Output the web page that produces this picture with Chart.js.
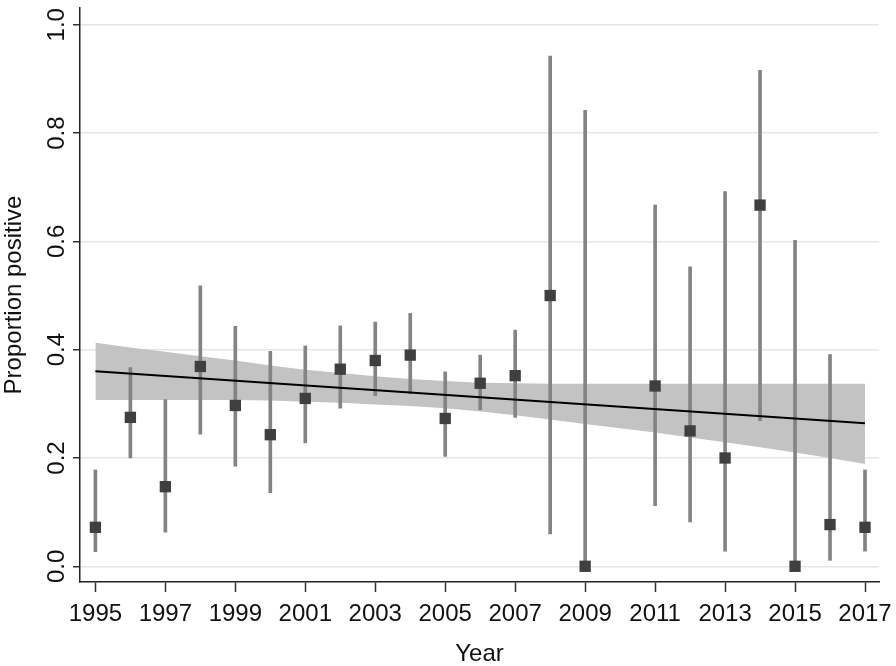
<!DOCTYPE html>
<html>
<head>
<meta charset="utf-8">
<script src="https://cdn.jsdelivr.net/npm/chart.js@4.4.1/dist/chart.umd.min.js"></script>
<style>
  html, body { margin: 0; padding: 0; background: #ffffff; }
  #wrap { width: 896px; height: 666px; }
</style>
</head>
<body>
<div id="wrap"><canvas id="c" width="896" height="666"></canvas></div>
<script>
// ---- data ----
const years      = [1995, 1996, 1997, 1998, 1999, 2000, 2001, 2002, 2003, 2004, 2005, 2006, 2007, 2008, 2009, 2011, 2012, 2013, 2014, 2015, 2016, 2017];
const proportion = [0.072, 0.275, 0.147, 0.369, 0.297, 0.243, 0.310, 0.364, 0.380, 0.390, 0.273, 0.338, 0.352, 0.500, 0.000, 0.333, 0.250, 0.200, 0.667, 0.000, 0.077, 0.072];
const ciLow      = [0.027, 0.200, 0.063, 0.244, 0.185, 0.136, 0.228, 0.292, 0.315, 0.319, 0.203, 0.289, 0.275, 0.060, 0.000, 0.112, 0.082, 0.028, 0.269, 0.000, 0.011, 0.028];
const ciHigh     = [0.178, 0.367, 0.308, 0.518, 0.443, 0.397, 0.407, 0.444, 0.451, 0.467, 0.359, 0.390, 0.436, 0.942, 0.842, 0.667, 0.553, 0.692, 0.916, 0.602, 0.391, 0.178];

const fitYears   = [1995, 2017];
const fitValues  = [0.360, 0.264];

const bandYears  = [1995, 1996, 1997, 1998, 1999, 2000, 2001, 2002, 2003, 2004, 2005, 2006, 2007, 2008, 2009, 2010, 2011, 2012, 2013, 2014, 2015, 2016, 2017];
const bandUpper  = [0.413, 0.404, 0.396, 0.388, 0.380, 0.371, 0.363, 0.357, 0.351, 0.346, 0.342, 0.339, 0.338, 0.337, 0.337, 0.337, 0.337, 0.337, 0.337, 0.337, 0.337, 0.337, 0.337];
const bandLower  = [0.307, 0.307, 0.307, 0.307, 0.307, 0.306, 0.304, 0.302, 0.299, 0.296, 0.292, 0.286, 0.279, 0.271, 0.263, 0.255, 0.247, 0.238, 0.229, 0.220, 0.210, 0.200, 0.189];

const xTicks = [1995, 1997, 1999, 2001, 2003, 2005, 2007, 2009, 2011, 2013, 2015, 2017];
const yTicks = [0.0, 0.2, 0.4, 0.6, 0.8, 1.0];
const yTickLabels = ['0.0', '0.2', '0.4', '0.6', '0.8', '1.0'];
const xTitle = 'Year';
const yTitle = 'Proportion positive';

// ---- build datasets ----
const pts   = years.map((y, i) => ({ x: y, y: proportion[i] }));
const bars  = years.map((y, i) => ({ x: y, y: [ciLow[i], ciHigh[i]] }));
const fit   = fitYears.map((y, i) => ({ x: y, y: fitValues[i] }));
const upper = bandYears.map((y, i) => ({ x: y, y: bandUpper[i] }));
const lower = bandYears.map((y, i) => ({ x: y, y: bandLower[i] }));

const FONT = "'Liberation Sans', Arial, sans-serif";

new Chart(document.getElementById('c'), {
  type: 'scatter',
  data: {
    datasets: [
      { type: 'line', data: upper, borderWidth: 0, pointRadius: 0, fill: '+1',
        backgroundColor: '#c3c3c3', borderColor: 'rgba(0,0,0,0)', order: 5 },
      { type: 'line', data: lower, borderWidth: 0, pointRadius: 0, fill: false,
        borderColor: 'rgba(0,0,0,0)', order: 4 },
      { type: 'bar', data: bars, backgroundColor: '#838383', borderWidth: 0,
        barThickness: 3, order: 3 },
      { type: 'line', data: fit, borderColor: '#000000', borderWidth: 2, pointRadius: 0,
        fill: false, order: 2 },
      { type: 'scatter', data: pts, pointStyle: 'rect', pointRadius: 8,
        backgroundColor: '#3f3f3f', borderColor: '#3f3f3f', borderWidth: 0, order: 1 }
    ]
  },
  options: {
    responsive: false,
    animation: false,
    devicePixelRatio: 1,
    layout: { padding: { left: 0, right: 17, top: 3, bottom: 0 } },
    plugins: { legend: { display: false }, tooltip: { enabled: false } },
    scales: {
      x: {
        type: 'linear', min: 1994.56, max: 2017.4, offset: false,
        afterBuildTicks: (s) => { s.ticks = xTicks.map(v => ({ value: v })); },
        afterFit: (s) => { s.height = 84; s.paddingLeft = 0; s.paddingRight = 0; },
        ticks: { color: '#111', font: { family: FONT, size: 24 }, padding: 8,
                 maxRotation: 0, minRotation: 0, autoSkip: false,
                 callback: (v) => String(v) },
        grid: { display: true, offset: false, drawOnChartArea: false, drawTicks: true, tickLength: 10,
                tickColor: '#333', tickWidth: 1.5 },
        border: { display: true, color: '#222', width: 1.5 },
        title: { display: true, text: xTitle, color: '#111',
                 font: { family: FONT, size: 24 }, padding: { top: 0, bottom: -3 } }
      },
      y: {
        type: 'linear', min: -0.029, max: 1.031,
        afterBuildTicks: (s) => { s.ticks = yTicks.map(v => ({ value: v })); },
        afterFit: (s) => { s.width = 80; s.paddingTop = 0; s.paddingBottom = 0; },
        ticks: { color: '#111', font: { family: FONT, size: 24 }, padding: -1,
                 minRotation: 90, maxRotation: 90, crossAlign: 'center', autoSkip: false,
                 callback: (v) => { const k = yTicks.findIndex(t => Math.abs(t - v) < 1e-9); return k >= 0 ? yTickLabels[k] : ''; } },
        grid: { display: true, drawOnChartArea: true, color: '#e6e6e6', lineWidth: 1.5,
                drawTicks: true, tickLength: 7, tickColor: '#333', tickWidth: 1.5 },
        border: { display: true, color: '#222', width: 1.5 },
        title: { display: true, text: yTitle, color: '#111',
                 font: { family: FONT, size: 24 }, padding: { top: 0, bottom: 0 } }
      }
    }
  }
});
</script>
</body>
</html>
